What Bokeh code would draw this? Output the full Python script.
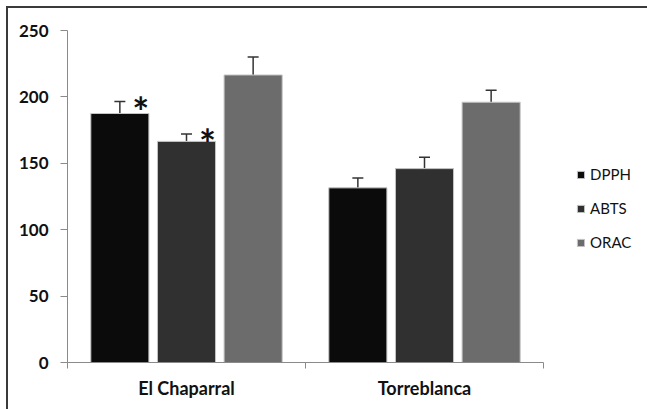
from bokeh.plotting import figure
from bokeh.models import (Range1d, FixedTicker, ColumnDataSource,
                          Whisker, TeeHead, Legend, LegendItem)
from bokeh.core.properties import value
from bokeh.embed import file_html
from bokeh.resources import INLINE

groups = ["El Chaparral", "Torreblanca"]
measures = ["DPPH", "ABTS", "ORAC"]
dpph = [187.5, 131.5]
dpph_err = [9.0, 7.5]
abts = [166.5, 146.0]
abts_err = [5.5, 8.5]
orac = [216.5, 196.0]
orac_err = [13.5, 9.0]
dpph_sig = ["*", ""]
abts_sig = ["*", ""]
orac_sig = ["", ""]
y_ticks = [0, 50, 100, 150, 200, 250]

series_vals = [dpph, abts, orac]
series_err = [dpph_err, abts_err, orac_err]
series_sig = [dpph_sig, abts_sig, orac_sig]
colors = ["#0b0b0b", "#303030", "#6c6c6c"]
offsets = [-0.28, 0.0, 0.28]
FONT = "Lato"

FRAME_W = 580           # frame extends under the legend
AXIS_W = 476            # pixel length of the category axis
x_end = len(groups) * FRAME_W / AXIS_W

p = figure(x_range=Range1d(0, x_end),
           y_range=Range1d(0, 250),
           frame_width=FRAME_W, frame_height=332,
           output_backend="svg", toolbar_location=None,
           min_border_left=59, min_border_right=0, min_border_top=22, min_border_bottom=47,
           styles={"border-left": "2px solid #3a3a3a", "border-top": "2px solid #3a3a3a",
                   "margin-left": "6px", "margin-top": "6px"})
p.outline_line_color = None
p.xgrid.visible = False
p.ygrid.visible = False

# y axis
ya = p.yaxis[0]
ya.ticker = FixedTicker(ticks=y_ticks)
ya.axis_line_color = "#8a8a8a"
ya.major_tick_line_color = "#8a8a8a"
ya.major_tick_out = 7
ya.major_tick_in = 0
ya.minor_tick_line_color = None
ya.major_label_standoff = 12
ya.major_label_text_font = FONT
ya.major_label_text_font_style = "bold"
ya.major_label_text_font_size = "17px"
ya.major_label_text_color = "#111111"

# x axis: labels at group centres, ticks at group boundaries
xa = p.xaxis[0]
xa.bounds = (0, len(groups))
xa.ticker = FixedTicker(ticks=[i + 0.5 for i in range(len(groups))],
                        minor_ticks=list(range(len(groups) + 1)))
xa.major_label_overrides = {i + 0.5: g for i, g in enumerate(groups)}
xa.axis_line_color = "#8a8a8a"
xa.major_tick_line_color = None
xa.major_tick_out = 0
xa.major_tick_in = 0
xa.minor_tick_line_color = "#8a8a8a"
xa.minor_tick_out = 6
xa.minor_tick_in = 0
xa.major_label_standoff = 8
xa.major_label_text_font = FONT
xa.major_label_text_font_style = "bold"
xa.major_label_text_font_size = "18px"
xa.major_label_text_color = "#111111"

items = []
for name, vals, errs, sigs, col, off in zip(measures, series_vals, series_err, series_sig, colors, offsets):
    src = ColumnDataSource(dict(x=[i + 0.5 + off for i in range(len(groups))], top=vals,
                                upper=[v + e for v, e in zip(vals, errs)],
                                sig=sigs))
    r = p.vbar(x="x", top="top", width=0.244, bottom=0, source=src,
               fill_color=col, line_color="#c4c4c4", line_width=1)
    items.append(LegendItem(label=name, renderers=[r]))
    w = Whisker(base="x", lower="top", upper="upper", source=src,
                upper_head=TeeHead(size=11, line_color="#333333", line_width=1.5),
                lower_head=None, line_color="#333333", line_width=1.5)
    p.add_layout(w)
    p.text(x="x", y="upper", text="sig", source=src,
           x_offset=21, y_offset=10, text_font=value(FONT), text_font_style="bold",
           text_font_size="40px", text_align="center", text_baseline="middle",
           text_color="#111111")

legend = Legend(items=items, location=(509, 110))
legend.glyph_width = 9
legend.glyph_height = 9
legend.label_height = 20
legend.label_standoff = 5
legend.spacing = 14
legend.padding = 0
legend.margin = 0
legend.border_line_color = None
legend.background_fill_alpha = 0
legend.label_text_font = FONT
legend.label_text_font_size = "15px"
legend.label_text_color = "#111111"
p.add_layout(legend, "center")

open("out.html", "w").write(file_html(p, INLINE))
